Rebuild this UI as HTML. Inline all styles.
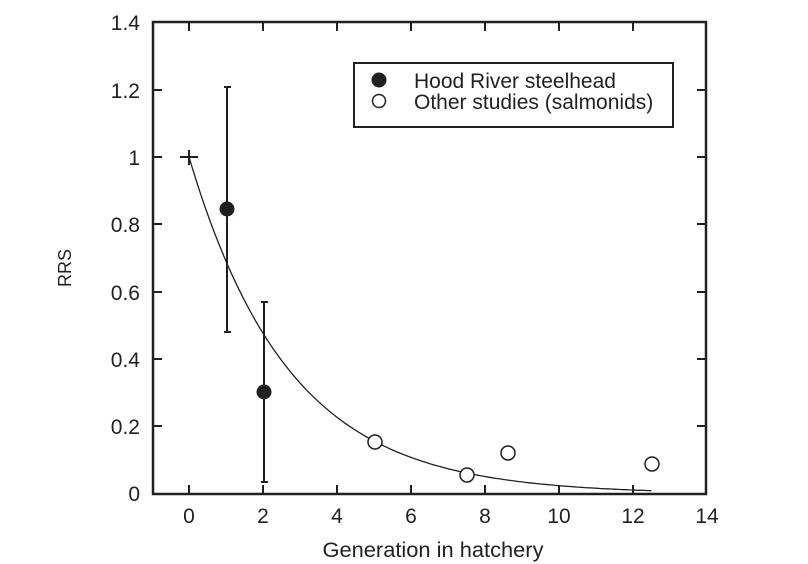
<!DOCTYPE html>
<html><head><style>
body{margin:0;background:#fff;}
svg{display:block;font-family:"Liberation Sans",Arial,sans-serif;}
</style></head><body>
<svg id="s" width="808" height="564" viewBox="0 0 808 564">
<rect x="153" y="22" width="553" height="472" fill="none" stroke="#231f20" stroke-width="2.5"/>
<g stroke="#231f20" stroke-width="2">
<line x1="189" y1="494" x2="189" y2="485"/><line x1="263" y1="494" x2="263" y2="485"/><line x1="337" y1="494" x2="337" y2="485"/><line x1="411" y1="494" x2="411" y2="485"/><line x1="485" y1="494" x2="485" y2="485"/><line x1="559" y1="494" x2="559" y2="485"/><line x1="633" y1="494" x2="633" y2="485"/>
<line x1="189" y1="22" x2="189" y2="31"/><line x1="263" y1="22" x2="263" y2="31"/><line x1="337" y1="22" x2="337" y2="31"/><line x1="411" y1="22" x2="411" y2="31"/><line x1="485" y1="22" x2="485" y2="31"/><line x1="559" y1="22" x2="559" y2="31"/><line x1="633" y1="22" x2="633" y2="31"/>
<line x1="153" y1="426" x2="162" y2="426"/><line x1="153" y1="359" x2="162" y2="359"/><line x1="153" y1="292" x2="162" y2="292"/><line x1="153" y1="224" x2="162" y2="224"/><line x1="153" y1="157" x2="162" y2="157"/><line x1="153" y1="90" x2="162" y2="90"/>
<line x1="706" y1="426" x2="697" y2="426"/><line x1="706" y1="359" x2="697" y2="359"/><line x1="706" y1="292" x2="697" y2="292"/><line x1="706" y1="224" x2="697" y2="224"/><line x1="706" y1="157" x2="697" y2="157"/><line x1="706" y1="90" x2="697" y2="90"/>
</g>
<g font-size="21" fill="#231f20" text-anchor="middle">
<text x="189" y="523">0</text><text x="263" y="523">2</text><text x="337" y="523">4</text><text x="411" y="523">6</text><text x="485" y="523">8</text><text x="559" y="523">10</text><text x="633" y="523">12</text><text x="707" y="523">14</text>
</g>
<g font-size="21" fill="#231f20" text-anchor="end">
<text x="140" y="501">0</text><text x="140" y="434">0.2</text><text x="140" y="367">0.4</text><text x="140" y="300">0.6</text><text x="140" y="232">0.8</text><text x="140" y="165">1</text><text x="140" y="98">1.2</text><text x="140" y="30">1.4</text>
</g>
<text x="433" y="557" font-size="21" fill="#231f20" text-anchor="middle" textLength="221" lengthAdjust="spacingAndGlyphs">Generation in hatchery</text>
<text transform="translate(71,268) rotate(-90)" font-size="18" fill="#231f20" text-anchor="middle">RRS</text>
<path id="curve" fill="none" stroke="#231f20" stroke-width="1.3"/>
<g stroke="#231f20" stroke-width="2">
<line x1="180" y1="157" x2="198" y2="157"/><line x1="189" y1="150" x2="189" y2="165"/>
<line x1="227" y1="87" x2="227" y2="332"/><line x1="224" y1="87" x2="231" y2="87"/><line x1="224" y1="332" x2="231" y2="332"/>
<line x1="264" y1="302" x2="264" y2="482"/><line x1="261" y1="302" x2="268" y2="302"/><line x1="261" y1="482" x2="268" y2="482"/>
</g>
<circle cx="227" cy="209" r="7.5" fill="#231f20"/>
<circle cx="264" cy="392" r="7.5" fill="#231f20"/>
<g fill="#fff" stroke="#231f20" stroke-width="1.5">
<circle cx="375" cy="442" r="7"/><circle cx="467" cy="475" r="7"/><circle cx="508" cy="453" r="7"/><circle cx="652" cy="464" r="7"/>
</g>
<rect x="354" y="63" width="319" height="64" fill="#fff" stroke="#231f20" stroke-width="2"/>
<circle cx="379" cy="80" r="7.5" fill="#231f20"/>
<circle cx="379" cy="101" r="6.5" fill="#fff" stroke="#231f20" stroke-width="1.5"/>
<g font-size="21" fill="#231f20">
<text x="414" y="88">Hood River steelhead</text>
<text x="414" y="109">Other studies (salmonids)</text>
</g>
</svg>
<script>
var d="";for(var i=0;i<=125;i++){var x=i/10;var y=Math.exp(-0.37*x);d+=(i?"L":"M")+(189+37*x).toFixed(1)+","+(494-337*y).toFixed(1);}
document.getElementById("curve").setAttribute("d",d);
</script>
</body></html>
